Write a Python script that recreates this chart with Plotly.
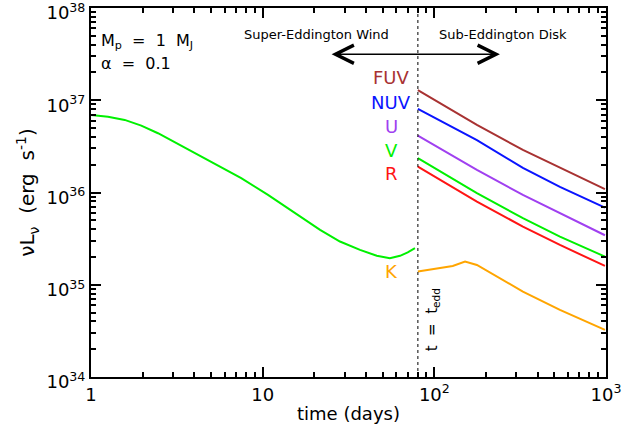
import plotly.graph_objects as go
import numpy as np

# Super-Eddington wind phase (V band)
wind_t = [1.0, 1.256, 1.571, 1.963, 2.456, 3.073, 3.84, 4.80, 6.01, 7.50, 10.74, 16.5, 21.6, 28.2,
          36.9, 46.2, 55.1, 63.1, 70.0, 77.1]
wind_L = [6.93e36, 6.64e36, 6.12e36, 5.31e36, 4.39e36, 3.51e36, 2.77e36, 2.25e36, 1.80e36, 1.43e36,
          9.42e35, 5.58e35, 3.94e35, 2.94e35, 2.39e35, 2.06e35, 1.94e35, 2.06e35, 2.24e35, 2.49e35]

t_edd = 80.2

# Sub-Eddington disk phase
disk_t = [80.2, 177, 328, 539, 986]
bands = {
    "FUV": [1.29e37, 5.40e36, 2.90e36, 1.85e36, 1.09e36],
    "NUV": [8.05e36, 3.70e36, 1.85e36, 1.15e36, 6.85e35],
    "U":   [4.14e36, 1.76e36, 9.42e35, 6.01e35, 3.44e35],
    "V":   [2.36e36, 9.82e35, 5.27e35, 3.33e35, 2.02e35],
    "R":   [1.91e36, 7.96e35, 4.27e35, 2.70e35, 1.60e35],
}
k_t = [80.2, 128, 151, 177, 328, 539, 986]
k_L = [1.39e35, 1.60e35, 1.78e35, 1.64e35, 8.43e34, 5.35e34, 3.24e34]

colors = {"FUV": "#A83232", "NUV": "#0A14FF", "U": "#A040F0", "V": "#00F000", "R": "#FF1414", "K": "#FFA500"}
label_y = {"FUV": 1.75e37, "NUV": 9.35e36, "U": 5.14e36, "V": 2.83e36, "R": 1.59e36, "K": 1.38e35}

minor_x = [m * d for d in (1, 10, 100) for m in range(2, 10)]
minor_y = [m * 10.0 ** e for e in (34, 35, 36, 37) for m in range(2, 10)]

FONT = "DejaVu Sans"

fig = go.Figure()
fig.add_trace(go.Scatter(x=wind_t, y=wind_L, mode="lines", line=dict(color=colors["V"], width=2), showlegend=False))
for b, vals in bands.items():
    fig.add_trace(go.Scatter(x=disk_t, y=vals, mode="lines", line=dict(color=colors[b], width=2), showlegend=False))
fig.add_trace(go.Scatter(x=k_t, y=k_L, mode="lines", line=dict(color=colors["K"], width=2), showlegend=False))
fig.add_trace(go.Scatter(x=[t_edd, t_edd], y=[1e34, 1e38], mode="lines", line=dict(color="black", width=1, dash="dot"), showlegend=False))

for b in list(bands.keys()) + ["K"]:
    fig.add_annotation(x=np.log10(56), y=np.log10(label_y[b]), text=b, showarrow=False,
                       font=dict(family=FONT, size=18, color=colors[b]), xanchor="center", yanchor="middle")

fig.add_annotation(x=np.log10(1.12), y=np.log10(4.3e37), text="M<sub>p</sub>&nbsp; = &nbsp;1&nbsp; M<sub>J</sub>", showarrow=False,
                   xanchor="left", yanchor="middle", font=dict(family=FONT, size=16, color="black"))
fig.add_annotation(x=np.log10(1.12), y=np.log10(2.5e37), text="α&nbsp; = &nbsp;0.1", showarrow=False,
                   xanchor="left", yanchor="middle", font=dict(family=FONT, size=16, color="black"))
fig.add_annotation(x=np.log10(20.7), y=np.log10(5.2e37), text="Super-Eddington Wind", showarrow=False,
                   xanchor="center", yanchor="middle", font=dict(family=FONT, size=13, color="black"))
fig.add_annotation(x=np.log10(251), y=np.log10(5.2e37), text="Sub-Eddington Disk", showarrow=False,
                   xanchor="center", yanchor="middle", font=dict(family=FONT, size=13, color="black"))
# double arrow
arrow_x = [24.7, 241]
arrow_y = 3.15e37
fig.add_annotation(x=np.log10(arrow_x[1]), y=np.log10(arrow_y), ax=np.log10(arrow_x[0]), ay=np.log10(arrow_y),
                   xref="x", yref="y", axref="x", ayref="y", text="", showarrow=True,
                   arrowhead=5, startarrowhead=5, arrowside="end+start", arrowwidth=1.5, arrowsize=2.4,
                   startarrowsize=2.4, arrowcolor="black")
fig.add_annotation(x=np.log10(98), y=np.log10(4.2e34), text="t&nbsp; = &nbsp;t<sub>edd</sub>", showarrow=False, textangle=-90,
                   xanchor="center", yanchor="middle", font=dict(family=FONT, size=15, color="black"))

axis_common = dict(type="log", showline=True, linecolor="black", linewidth=2, mirror="ticks",
                   ticks="inside", ticklen=10, tickwidth=1.5, tickcolor="black", showgrid=False, zeroline=False,
                   ticklabeloverflow="allow", automargin=False,
                   tickfont=dict(family=FONT, size=18, color="black"))

fig.update_xaxes(**axis_common, range=[0, 3], tickvals=[1, 10, 100, 1000],
                 ticktext=["1", "10", "10<sup>2</sup>", "10<sup>3</sup>"],
                 minor=dict(tickmode="array", tickvals=minor_x, ticks="inside", ticklen=5, tickwidth=1.5,
                            tickcolor="black", showgrid=False),
                 title=dict(text="time (days)", font=dict(family=FONT, size=18, color="black"), standoff=4))
fig.update_yaxes(**axis_common, range=[34, 38], tickvals=[1e34, 1e35, 1e36, 1e37, 1e38],
                 ticktext=["10<sup>34</sup>", "10<sup>35</sup>", "10<sup>36</sup>", "10<sup>37</sup>", "10<sup>38</sup>"],
                 ticklabelshift=5,
                 minor=dict(tickmode="array", tickvals=minor_y, ticks="inside", ticklen=5, tickwidth=1.5,
                            tickcolor="black", showgrid=False),
                 title=dict(text="νL<sub>ν</sub>&nbsp; (erg&nbsp; s<sup>-1</sup>)", font=dict(family=FONT, size=20, color="black"), standoff=6))

fig.update_layout(width=640, height=441, margin=dict(l=91, r=34, t=8, b=64, autoexpand=False),
                  plot_bgcolor="white", paper_bgcolor="white", showlegend=False)
fig.write_html("out.html")
